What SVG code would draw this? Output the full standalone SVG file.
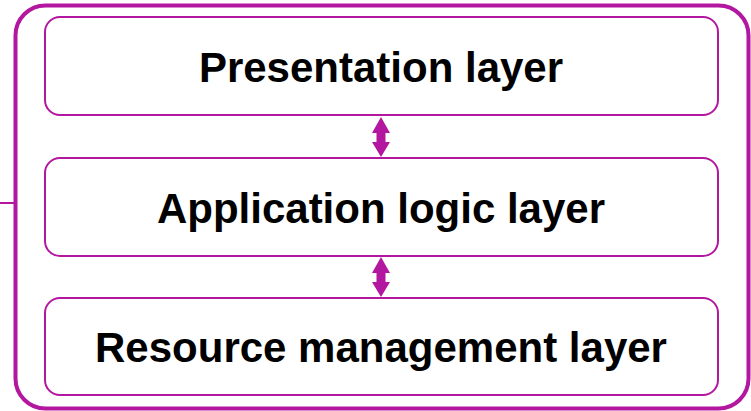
<svg xmlns="http://www.w3.org/2000/svg" width="751" height="411" viewBox="0 0 751 411">
  <style>
    .outer { fill: none; stroke: #B4179F; stroke-width: 4; }
    .box { fill: #FFFFFF; stroke: #B4179F; stroke-width: 2; }
    .lbl { font-family: "Liberation Sans", Arial, sans-serif; font-weight: bold; font-size: 42px; fill: #000000; text-anchor: middle; }
    .arrow { fill: #B4179F; stroke: none; }
    .line { stroke: #B4179F; stroke-width: 2; fill: none; }
  </style>
  <rect width="751" height="411" fill="#FFFFFF"/>
  <g id="container">
    <rect class="outer" x="15.5" y="5.5" width="733" height="403" rx="30" ry="30"/>
  </g>
  <g id="presentation">
    <rect class="box" x="45" y="17" width="673" height="98" rx="15" ry="15"/>
    <text class="lbl" x="381" y="82">Presentation layer</text>
  </g>
  <g id="application">
    <rect class="box" x="45" y="158" width="673" height="98" rx="15" ry="15"/>
    <text class="lbl" x="381" y="223">Application logic layer</text>
  </g>
  <g id="resource">
    <rect class="box" x="45" y="298" width="673" height="97" rx="15" ry="15"/>
    <text class="lbl" x="381" y="362">Resource management layer</text>
  </g>
  <g id="connectors">
    <path class="line" d="M0,203 L15,203"/>
    <path class="arrow" d="M381,117 L390,133 L385.5,133 L385.5,142 L390,142 L381,157 L372,142 L376.5,142 L376.5,133 L372,133 Z"/>
    <path class="arrow" d="M381,257 L390,273 L385.5,273 L385.5,282 L390,282 L381,297 L372,282 L376.5,282 L376.5,273 L372,273 Z"/>
  </g>
</svg>
